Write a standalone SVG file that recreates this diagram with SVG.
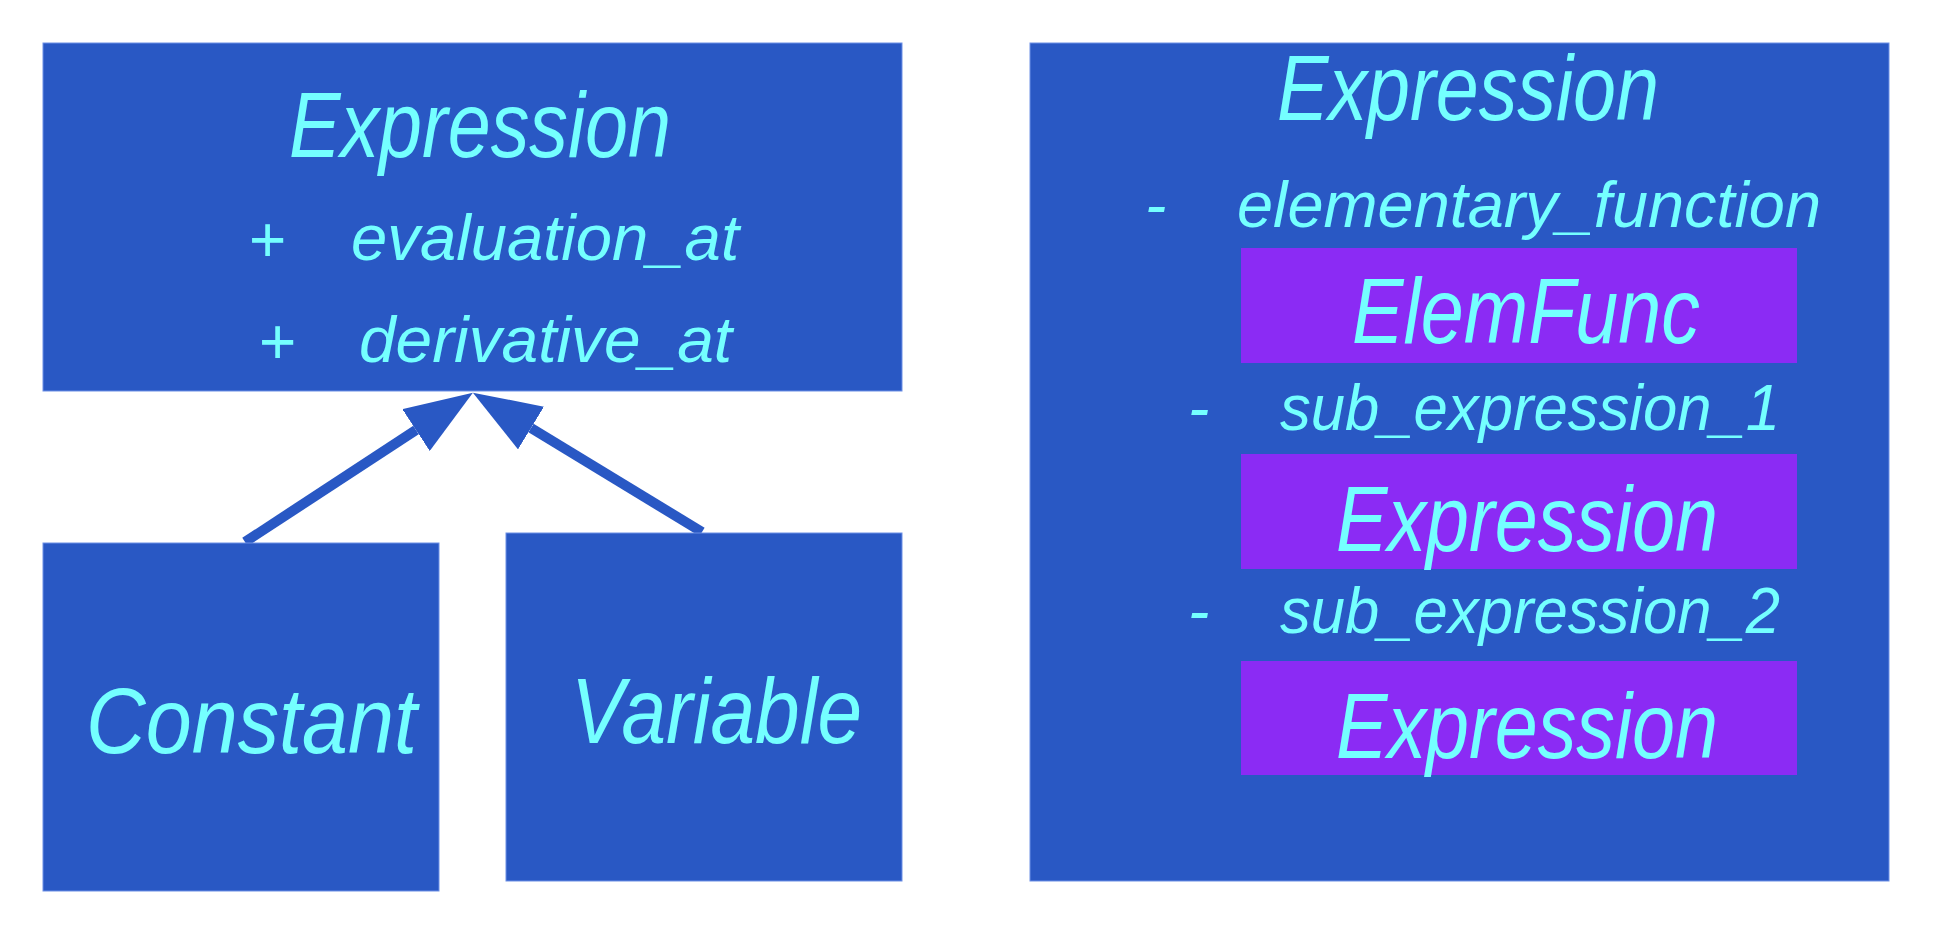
<svg xmlns="http://www.w3.org/2000/svg" width="1946" height="926" viewBox="0 0 1946 926">
<style>
.box{fill:#2958c4;stroke:#6d8fe6;stroke-width:1}
.inner{fill:#8b2bf4}
.t{fill:#74ffff;font-family:"Liberation Sans Narrow","Liberation Sans",Arial,sans-serif;font-style:italic}
.title{font-size:92px}
.attr{font-size:64px}
.conn{stroke:#2958c4;stroke-width:10;fill:none}
</style>
<defs>
<marker id="tri" markerUnits="userSpaceOnUse" markerWidth="68" markerHeight="50" viewBox="0 0 68 50" refX="0" refY="25" orient="auto">
<path d="M0,0 L68,25 L0,50 Z" fill="#2958c4"/>
</marker>
</defs>
<g id="connectors">
<line class="conn" x1="245" y1="542" x2="416" y2="430" marker-end="url(#tri)"/>
<line class="conn" x1="702" y1="532" x2="531" y2="428" marker-end="url(#tri)"/>
</g>
<g id="expression-base">
<rect class="box" x="43" y="43" width="859" height="348"/>
<text class="t title" x="289" y="157" textLength="382" lengthAdjust="spacingAndGlyphs">Expression</text>
<text class="t attr" x="248" y="262">+</text>
<text class="t attr" x="351" y="260" textLength="388" lengthAdjust="spacingAndGlyphs">evaluation_at</text>
<text class="t attr" x="258" y="364">+</text>
<text class="t attr" x="359" y="362" textLength="373" lengthAdjust="spacingAndGlyphs">derivative_at</text>
</g>
<g id="constant">
<rect class="box" x="43" y="543" width="396" height="348"/>
<text class="t title" x="86" y="753" textLength="331" lengthAdjust="spacingAndGlyphs">Constant</text>
</g>
<g id="variable">
<rect class="box" x="506" y="533" width="396" height="348"/>
<text class="t title" x="571" y="743" textLength="291" lengthAdjust="spacingAndGlyphs">Variable</text>
</g>
<g id="expression-composite">
<rect class="box" x="1030" y="43" width="859" height="838"/>
<text class="t title" x="1277" y="120" textLength="382" lengthAdjust="spacingAndGlyphs">Expression</text>
<text class="t attr" x="1145" y="227">-</text>
<text class="t attr" x="1237" y="227" textLength="584" lengthAdjust="spacingAndGlyphs">elementary_function</text>
<rect class="inner" x="1241" y="248" width="556" height="115"/>
<text class="t title" x="1352" y="343" textLength="348" lengthAdjust="spacingAndGlyphs">ElemFunc</text>
<text class="t attr" x="1188" y="430">-</text>
<text class="t attr" x="1280" y="430" textLength="500" lengthAdjust="spacingAndGlyphs">sub_expression_1</text>
<rect class="inner" x="1241" y="454" width="556" height="115"/>
<text class="t title" x="1336" y="551" textLength="382" lengthAdjust="spacingAndGlyphs">Expression</text>
<text class="t attr" x="1188" y="633">-</text>
<text class="t attr" x="1280" y="633" textLength="500" lengthAdjust="spacingAndGlyphs">sub_expression_2</text>
<rect class="inner" x="1241" y="661" width="556" height="114"/>
<text class="t title" x="1336" y="758" textLength="382" lengthAdjust="spacingAndGlyphs">Expression</text>
</g>
</svg>
